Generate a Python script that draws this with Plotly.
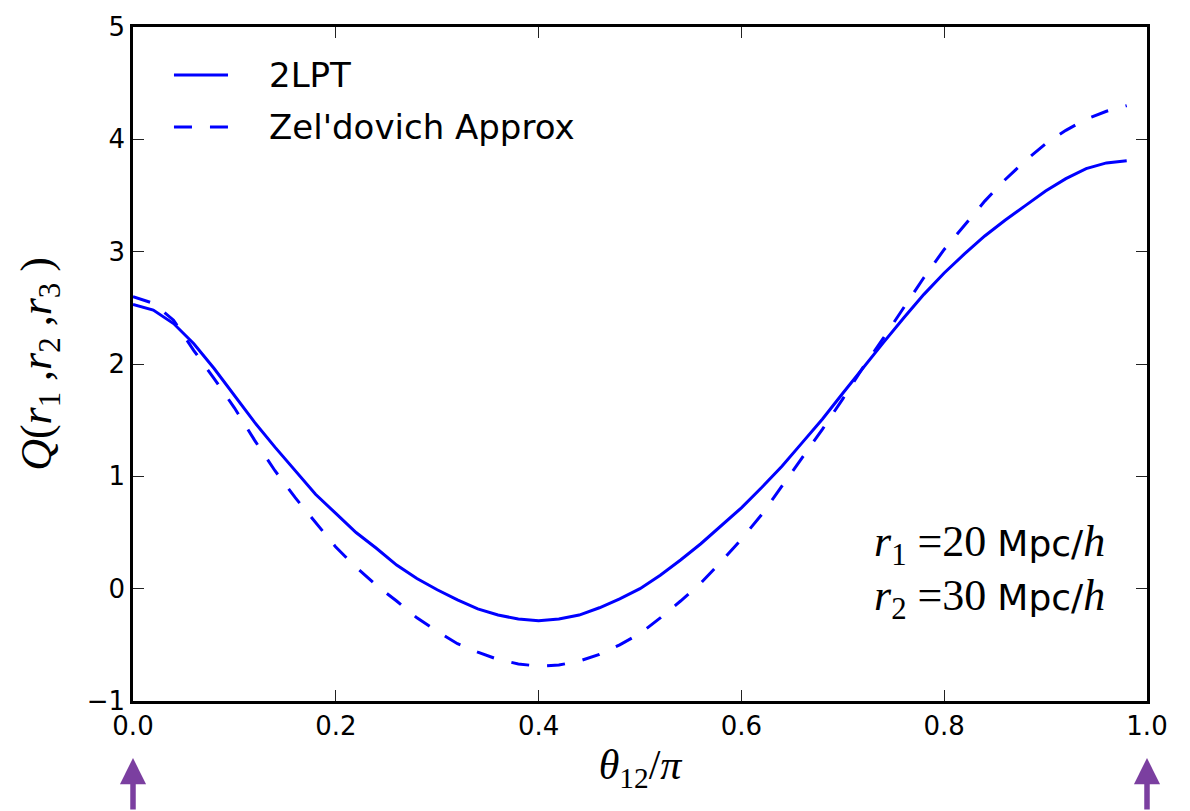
import plotly.graph_objects as go

# ---- data ----
theta = [round(0.02 * i, 2) for i in range(50)]  # theta_12 / pi : 0.00 ... 0.98

q_2lpt = [2.53, 2.48, 2.36, 2.18, 1.96, 1.72, 1.48, 1.26, 1.05, 0.84,
          0.67, 0.50, 0.36, 0.21, 0.09, -0.01, -0.10, -0.18, -0.235, -0.27,
          -0.285, -0.27, -0.235, -0.17, -0.09, 0.00, 0.12, 0.255, 0.40, 0.56,
          0.72, 0.90, 1.09, 1.30, 1.51, 1.74, 1.97, 2.19, 2.41, 2.62,
          2.81, 2.98, 3.14, 3.28, 3.41, 3.54, 3.65, 3.74, 3.79, 3.81]

q_zel = [2.60, 2.54, 2.39, 2.12, 1.87, 1.61, 1.32, 1.05, 0.81, 0.59,
         0.37, 0.19, 0.03, -0.11, -0.26, -0.38, -0.49, -0.565, -0.63, -0.67,
         -0.69, -0.68, -0.645, -0.585, -0.50, -0.40, -0.26, -0.11, 0.05, 0.24,
         0.44, 0.66, 0.91, 1.16, 1.42, 1.69, 1.97, 2.23, 2.50, 2.77,
         3.02, 3.24, 3.45, 3.64, 3.81, 3.96, 4.08, 4.18, 4.25, 4.30]

series_names = ["2LPT", "Zel'dovich Approx"]
x_ticks = [0.0, 0.2, 0.4, 0.6, 0.8, 1.0]
y_ticks = [-1, 0, 1, 2, 3, 4, 5]
arrow_positions = [0.0, 1.0]

BLUE = "#0000ff"
PURPLE = "#7b3fa0"
SANS = "DejaVu Sans"
SERIF = "Liberation Serif"
DASH = "18px,18px"

fig = go.Figure()
fig.add_trace(go.Scatter(x=theta, y=q_2lpt, mode="lines", name=series_names[0],
                         line=dict(color=BLUE, width=3), showlegend=False))
fig.add_trace(go.Scatter(x=theta, y=q_zel, mode="lines", name=series_names[1],
                         line=dict(color=BLUE, width=3, dash=DASH), showlegend=False))

axis_common = dict(showline=True, linecolor="black", linewidth=2.5, mirror="ticks",
                   ticks="inside", ticklen=11, tickwidth=1.3, tickcolor="#222",
                   showgrid=False, zeroline=False,
                   tickfont=dict(family=SANS, size=26, color="black"))

fig.update_xaxes(range=[0, 1], tickvals=x_ticks, tickformat=".1f",
                 title=dict(text="<i>θ</i><sub>12</sub>/<i>π</i>",
                            font=dict(family=SERIF, size=42, color="black"), standoff=10),
                 **axis_common)
fig.update_yaxes(range=[-1, 5], tickvals=y_ticks,
                 title=dict(text=("<i>Q</i>(<i>r</i><sub>1</sub> ,<i>r</i><sub>2</sub> ,"
                                  "<i>r</i><sub>3</sub> )"),
                            font=dict(family=SERIF, size=44, color="black"), standoff=22),
                 **axis_common)

# ---- custom legend (matplotlib-like long line samples) ----
legend_rows = [(0.9288, "solid", series_names[0]), (0.8516, DASH, series_names[1])]
for yy, dash, label in legend_rows:
    fig.add_shape(type="line", xref="paper", yref="paper", x0=0.0404, x1=0.0937,
                  y0=yy, y1=yy, line=dict(color=BLUE, width=3, dash=dash))
    fig.add_annotation(xref="paper", yref="paper", x=0.1321, y=yy, text=label,
                       showarrow=False, xanchor="left", yanchor="middle",
                       font=dict(family=SANS, size=34, color="black"))

# ---- r1 / r2 annotation ----
for yy, sub, val in [(0.2315, "1", "20"), (0.1528, "2", "30")]:
    fig.add_annotation(xref="paper", yref="paper", x=0.961, y=yy,
                       text=(f"<i>r</i><sub>{sub}</sub> ={val} "
                             f"<span style='font-family:{SANS};font-size:36px'>Mpc/</span><i>h</i>"),
                       showarrow=False, xanchor="right", yanchor="middle",
                       font=dict(family=SERIF, size=44, color="black"))

# ---- purple arrows under the x axis ----
for xa in arrow_positions:
    fig.add_annotation(x=xa, xref="x", y=-0.0846, yref="paper", text="",
                       showarrow=True, arrowhead=2, arrowsize=0.95, arrowwidth=5.5,
                       arrowcolor=PURPLE, ax=0, ay=60, standoff=0, startstandoff=0)

fig.update_layout(width=1190, height=811, margin=dict(l=133, r=43, t=27, b=110),
                  paper_bgcolor="white", plot_bgcolor="white", showlegend=False)

fig.write_html("out.html")
